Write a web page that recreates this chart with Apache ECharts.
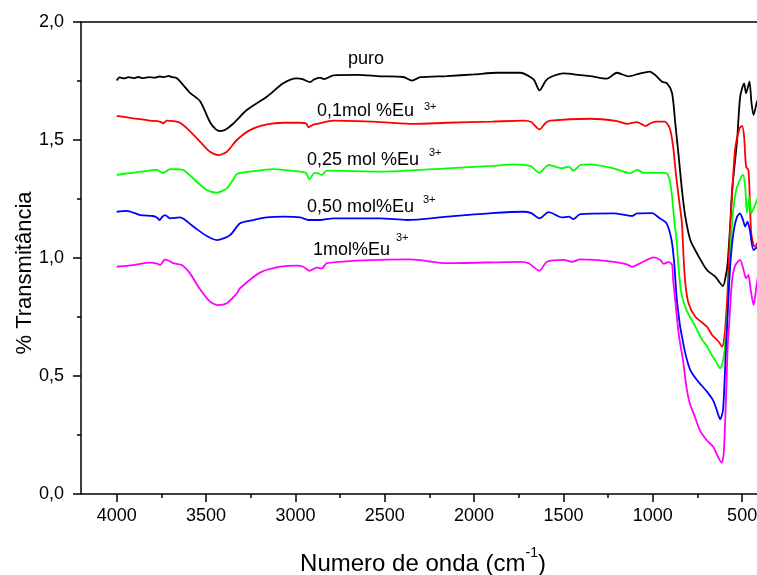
<!DOCTYPE html>
<html>
<head>
<meta charset="utf-8">
<script src="https://cdn.jsdelivr.net/npm/echarts@6/dist/echarts.min.js"></script>
<style>
  html, body { margin: 0; padding: 0; background: #fff; }
  #chart { width: 757px; height: 575px; }
</style>
</head>
<body>
<div id="chart"></div>
<script>
// FTIR spectra: [wavenumber (cm-1), transmittance (offset)]
const puro = [
  [4000,1.752],[3985,1.765],[3960,1.761],[3935,1.766],[3905,1.762],[3880,1.767],[3850,1.762],
  [3820,1.766],[3790,1.764],[3760,1.769],[3735,1.766],[3710,1.772],[3690,1.766],[3665,1.763],
  [3630,1.735],[3590,1.70],[3534,1.665],[3478,1.575],[3445,1.545],[3421,1.538],[3395,1.542],
  [3347,1.57],[3272,1.627],[3160,1.683],[3068,1.74],[2994,1.761],[2960,1.758],[2918,1.745],
  [2895,1.757],[2862,1.764],[2840,1.758],[2787,1.774],[2650,1.776],[2525,1.77],[2396,1.767],
  [2348,1.752],[2301,1.766],[2152,1.771],[2000,1.778],[1872,1.785],[1741,1.785],[1704,1.775],
  [1665,1.755],[1634,1.71],[1600,1.75],[1574,1.766],[1499,1.782],[1406,1.775],[1350,1.771],
  [1257,1.76],[1201,1.785],[1136,1.77],[1080,1.78],[1018,1.79],[986,1.775],[948,1.747],
  [920,1.74],[892,1.698],[874,1.57],[855,1.43],[837,1.29],[818,1.175],[790,1.076],[753,1.02],
  [697,0.949],[650,0.921],[625,0.895],[607,0.881],[590,0.93],[581,0.978],[566,1.148],
  [556,1.288],[528,1.5],[511,1.683],[489,1.74],[478,1.698],[459,1.747],[448,1.66],
  [436,1.606],[417,1.662],[405,1.68]
];
const eu01 = [
  [4000,1.602],[3907,1.592],[3813,1.582],[3760,1.578],[3739,1.571],[3720,1.582],[3680,1.58],
  [3646,1.573],[3608,1.55],[3534,1.493],[3478,1.45],[3431,1.436],[3384,1.45],[3328,1.5],
  [3254,1.542],[3160,1.566],[3067,1.573],[2973,1.573],[2940,1.57],[2927,1.554],[2900,1.565],
  [2880,1.568],[2787,1.582],[2525,1.576],[2339,1.568],[2152,1.573],[1900,1.578],[1723,1.582],
  [1680,1.576],[1634,1.545],[1600,1.572],[1574,1.582],[1350,1.59],[1200,1.58],[1144,1.568],
  [1088,1.576],[1041,1.559],[1010,1.572],[976,1.578],[933,1.578],[905,1.55],[886,1.472],
  [871,1.359],[853,1.246],[837,1.148],[828,1.006],[818,0.893],[800,0.808],[762,0.751],
  [697,0.709],[668,0.674],[631,0.645],[612,0.624],[600,0.66],[590,0.75],[581,0.864],
  [570,1.076],[557,1.26],[538,1.47],[514,1.55],[500,1.56],[489,1.514],[478,1.387],
  [465,1.373],[457,1.25],[449,1.105],[430,1.048],[410,1.07]
];
const eu025 = [
  [4000,1.352],[3950,1.358],[3907,1.361],[3840,1.368],[3776,1.373],[3755,1.365],[3739,1.361],
  [3702,1.377],[3660,1.376],[3627,1.373],[3590,1.35],[3552,1.323],[3496,1.288],[3440,1.277],
  [3384,1.295],[3350,1.33],[3328,1.356],[3254,1.366],[3123,1.377],[3030,1.37],[2973,1.366],
  [2940,1.36],[2922,1.333],[2895,1.36],[2880,1.361],[2852,1.352],[2824,1.37],[2525,1.366],
  [2152,1.38],[1900,1.39],[1779,1.397],[1686,1.39],[1635,1.361],[1600,1.385],[1583,1.394],
  [1508,1.38],[1471,1.387],[1443,1.37],[1406,1.394],[1350,1.397],[1219,1.38],[1126,1.359],
  [1088,1.373],[1051,1.361],[939,1.361],[920,1.358],[905,1.33],[892,1.26],[880,1.16],
  [867,1.076],[853,0.935],[840,0.85],[812,0.78],[762,0.71],[725,0.655],[700,0.63],
  [670,0.589],[646,0.561],[623,0.532],[604,0.575],[588,0.7],[575,0.86],[556,1.15],
  [543,1.246],[528,1.302],[504,1.345],[495,1.352],[483,1.302],[473,1.19],[460,1.26],
  [449,1.19],[430,1.22],[410,1.26]
];
const eu050 = [
  [4000,1.196],[3944,1.2],[3869,1.182],[3800,1.178],[3776,1.172],[3761,1.161],[3745,1.175],
  [3729,1.182],[3702,1.168],[3646,1.172],[3571,1.133],[3496,1.093],[3440,1.076],[3366,1.097],
  [3310,1.147],[3235,1.161],[3160,1.172],[3067,1.175],[2973,1.172],[2927,1.161],[2862,1.161],
  [2787,1.168],[2525,1.168],[2376,1.161],[2152,1.175],[1900,1.19],[1723,1.196],[1680,1.19],
  [1634,1.168],[1583,1.194],[1508,1.172],[1471,1.175],[1443,1.165],[1406,1.186],[1219,1.189],
  [1116,1.178],[1088,1.189],[1004,1.19],[961,1.168],[923,1.147],[895,1.076],[880,0.978],
  [867,0.836],[849,0.72],[840,0.68],[818,0.596],[790,0.525],[753,0.483],[697,0.434],
  [663,0.398],[645,0.363],[623,0.317],[607,0.356],[594,0.554],[585,0.695],[570,0.935],
  [556,1.062],[543,1.133],[528,1.175],[513,1.189],[495,1.161],[483,1.133],[470,1.154],
  [457,1.119],[436,1.034],[410,1.05]
];
const eu1 = [
  [4000,0.963],[3907,0.97],[3813,0.98],[3770,0.975],[3758,0.97],[3729,0.994],[3700,0.985],
  [3683,0.978],[3636,0.97],[3590,0.935],[3543,0.878],[3478,0.815],[3431,0.8],[3384,0.808],
  [3328,0.85],[3310,0.872],[3198,0.938],[3086,0.963],[2994,0.968],[2956,0.963],[2922,0.946],
  [2880,0.959],[2852,0.956],[2824,0.978],[2694,0.987],[2525,0.992],[2357,0.994],[2152,0.978],
  [1741,0.984],[1695,0.978],[1635,0.946],[1592,0.984],[1499,0.992],[1452,0.984],[1406,0.994],
  [1219,0.984],[1144,0.973],[1116,0.963],[1070,0.978],[995,1.003],[958,0.992],[939,0.975],
  [911,0.984],[892,0.97],[886,0.907],[871,0.794],[853,0.667],[831,0.568],[812,0.455],
  [793,0.384],[765,0.328],[737,0.271],[699,0.229],[662,0.2],[640,0.165],[615,0.133],
  [603,0.172],[590,0.412],[581,0.624],[570,0.751],[556,0.907],[538,0.97],[511,0.992],
  [492,0.949],[478,0.914],[465,0.928],[452,0.864],[436,0.8],[420,0.88],[410,0.93]
];

const seriesNames = ['puro', '0,1mol %Eu', '0,25 mol %Eu', '0,50 mol%Eu', '1mol%Eu'];
const seriesData = [puro, eu01, eu025, eu050, eu1];
const seriesColors = ['#000000', '#ff0000', '#00ff00', '#0000ff', '#ff00ff'];

const xMajorTicks = [4000, 3500, 3000, 2500, 2000, 1500, 1000, 500];
const xMinorTicks = [3750, 3250, 2750, 2250, 1750, 1250, 750];
const xRange = [400, 4200];

const chart = echarts.init(document.getElementById('chart'), null, { renderer: 'canvas' });
const FONT = 'Arial, "Liberation Sans", sans-serif';

const axisLine = { show: true, lineStyle: { color: '#000', width: 1.5 } };

// curve labels: [text, left x, centre y, superscript x, superscript y]
const curveLabels = [
  ['puro', 348, 59.5, null, null],
  ['0,1mol %Eu', 317, 111.5, 424, 107],
  ['0,25 mol %Eu', 307, 160.5, 429, 152.5],
  ['0,50 mol%Eu', 307, 207, 423, 200],
  ['1mol%Eu', 313, 250.5, 396, 237.5]
];
const graphics = [];
curveLabels.forEach(function (l) {
  graphics.push({
    type: 'text', x: l[1], y: l[2], silent: true,
    style: { text: l[0], font: '18px ' + FONT, fill: '#000', align: 'left', verticalAlign: 'middle' }
  });
  if (l[3] !== null) {
    graphics.push({
      type: 'text', x: l[3], y: l[4], silent: true,
      style: { text: '3+', font: '11px ' + FONT, fill: '#000', align: 'left', verticalAlign: 'middle' }
    });
  }
});
// axis titles
graphics.push({
  type: 'text', x: 25, y: 273, rotation: Math.PI / 2, silent: true,
  style: { text: '% Transmitância', font: '22px ' + FONT, fill: '#000', align: 'center', verticalAlign: 'middle' }
});
graphics.push({
  type: 'text', x: 423, y: 561, silent: true,
  style: {
    text: '{n|Numero de onda (cm}{s|-1}{n|)}',
    align: 'center', verticalAlign: 'middle',
    rich: {
      n: { fontSize: 24, fontFamily: FONT, fill: '#000', lineHeight: 30, verticalAlign: 'bottom' },
      s: { fontSize: 14, fontFamily: FONT, fill: '#000', lineHeight: 30, verticalAlign: 'top' }
    }
  }
});

chart.setOption({
  backgroundColor: '#fff',
  animation: false,
  grid: { left: 81, right: -3, top: 22, bottom: 81, containLabel: false, outerBoundsMode: 'none' },
  xAxis: [
    {
      type: 'value', position: 'bottom', min: xRange[0], max: xRange[1], inverse: true,
      axisLine: axisLine,
      axisTick: { show: true, customValues: xMajorTicks, length: 8, inside: false, lineStyle: { color: '#000', width: 1.5 } },
      axisLabel: {
        show: true, customValues: xMajorTicks, margin: 13, color: '#000', fontSize: 18, fontFamily: FONT,
        formatter: function (v) { return String(v); }
      },
      splitLine: { show: false }
    },
    {
      type: 'value', position: 'bottom', min: xRange[0], max: xRange[1], inverse: true,
      axisLine: { show: false },
      axisTick: { show: true, customValues: xMinorTicks, length: 4, inside: false, lineStyle: { color: '#000', width: 1.5 } },
      axisLabel: { show: false },
      splitLine: { show: false }
    },
    {
      type: 'value', position: 'top', min: xRange[0], max: xRange[1], inverse: true,
      axisLine: axisLine,
      axisTick: { show: false },
      axisLabel: { show: false },
      splitLine: { show: false }
    }
  ],
  yAxis: {
    type: 'value', min: 0, max: 2, interval: 0.5,
    axisLine: axisLine,
    axisTick: { show: true, length: 8, lineStyle: { color: '#000', width: 1.5 } },
    minorTick: { show: true, splitNumber: 2, length: 4, lineStyle: { color: '#000', width: 1.5 } },
    axisLabel: {
      margin: 17, color: '#000', fontSize: 18, fontFamily: FONT,
      formatter: function (v) { return v.toFixed(1).replace('.', ','); }
    },
    splitLine: { show: false },
    minorSplitLine: { show: false }
  },
  series: seriesData.map(function (d, i) {
    return {
      name: seriesNames[i], type: 'line', data: d, xAxisIndex: 0,
      showSymbol: false, smooth: 0.25, clip: true,
      lineStyle: { color: seriesColors[i], width: 1.8 },
      itemStyle: { color: seriesColors[i] }
    };
  }),
  graphic: graphics
});
</script>
</body>
</html>
